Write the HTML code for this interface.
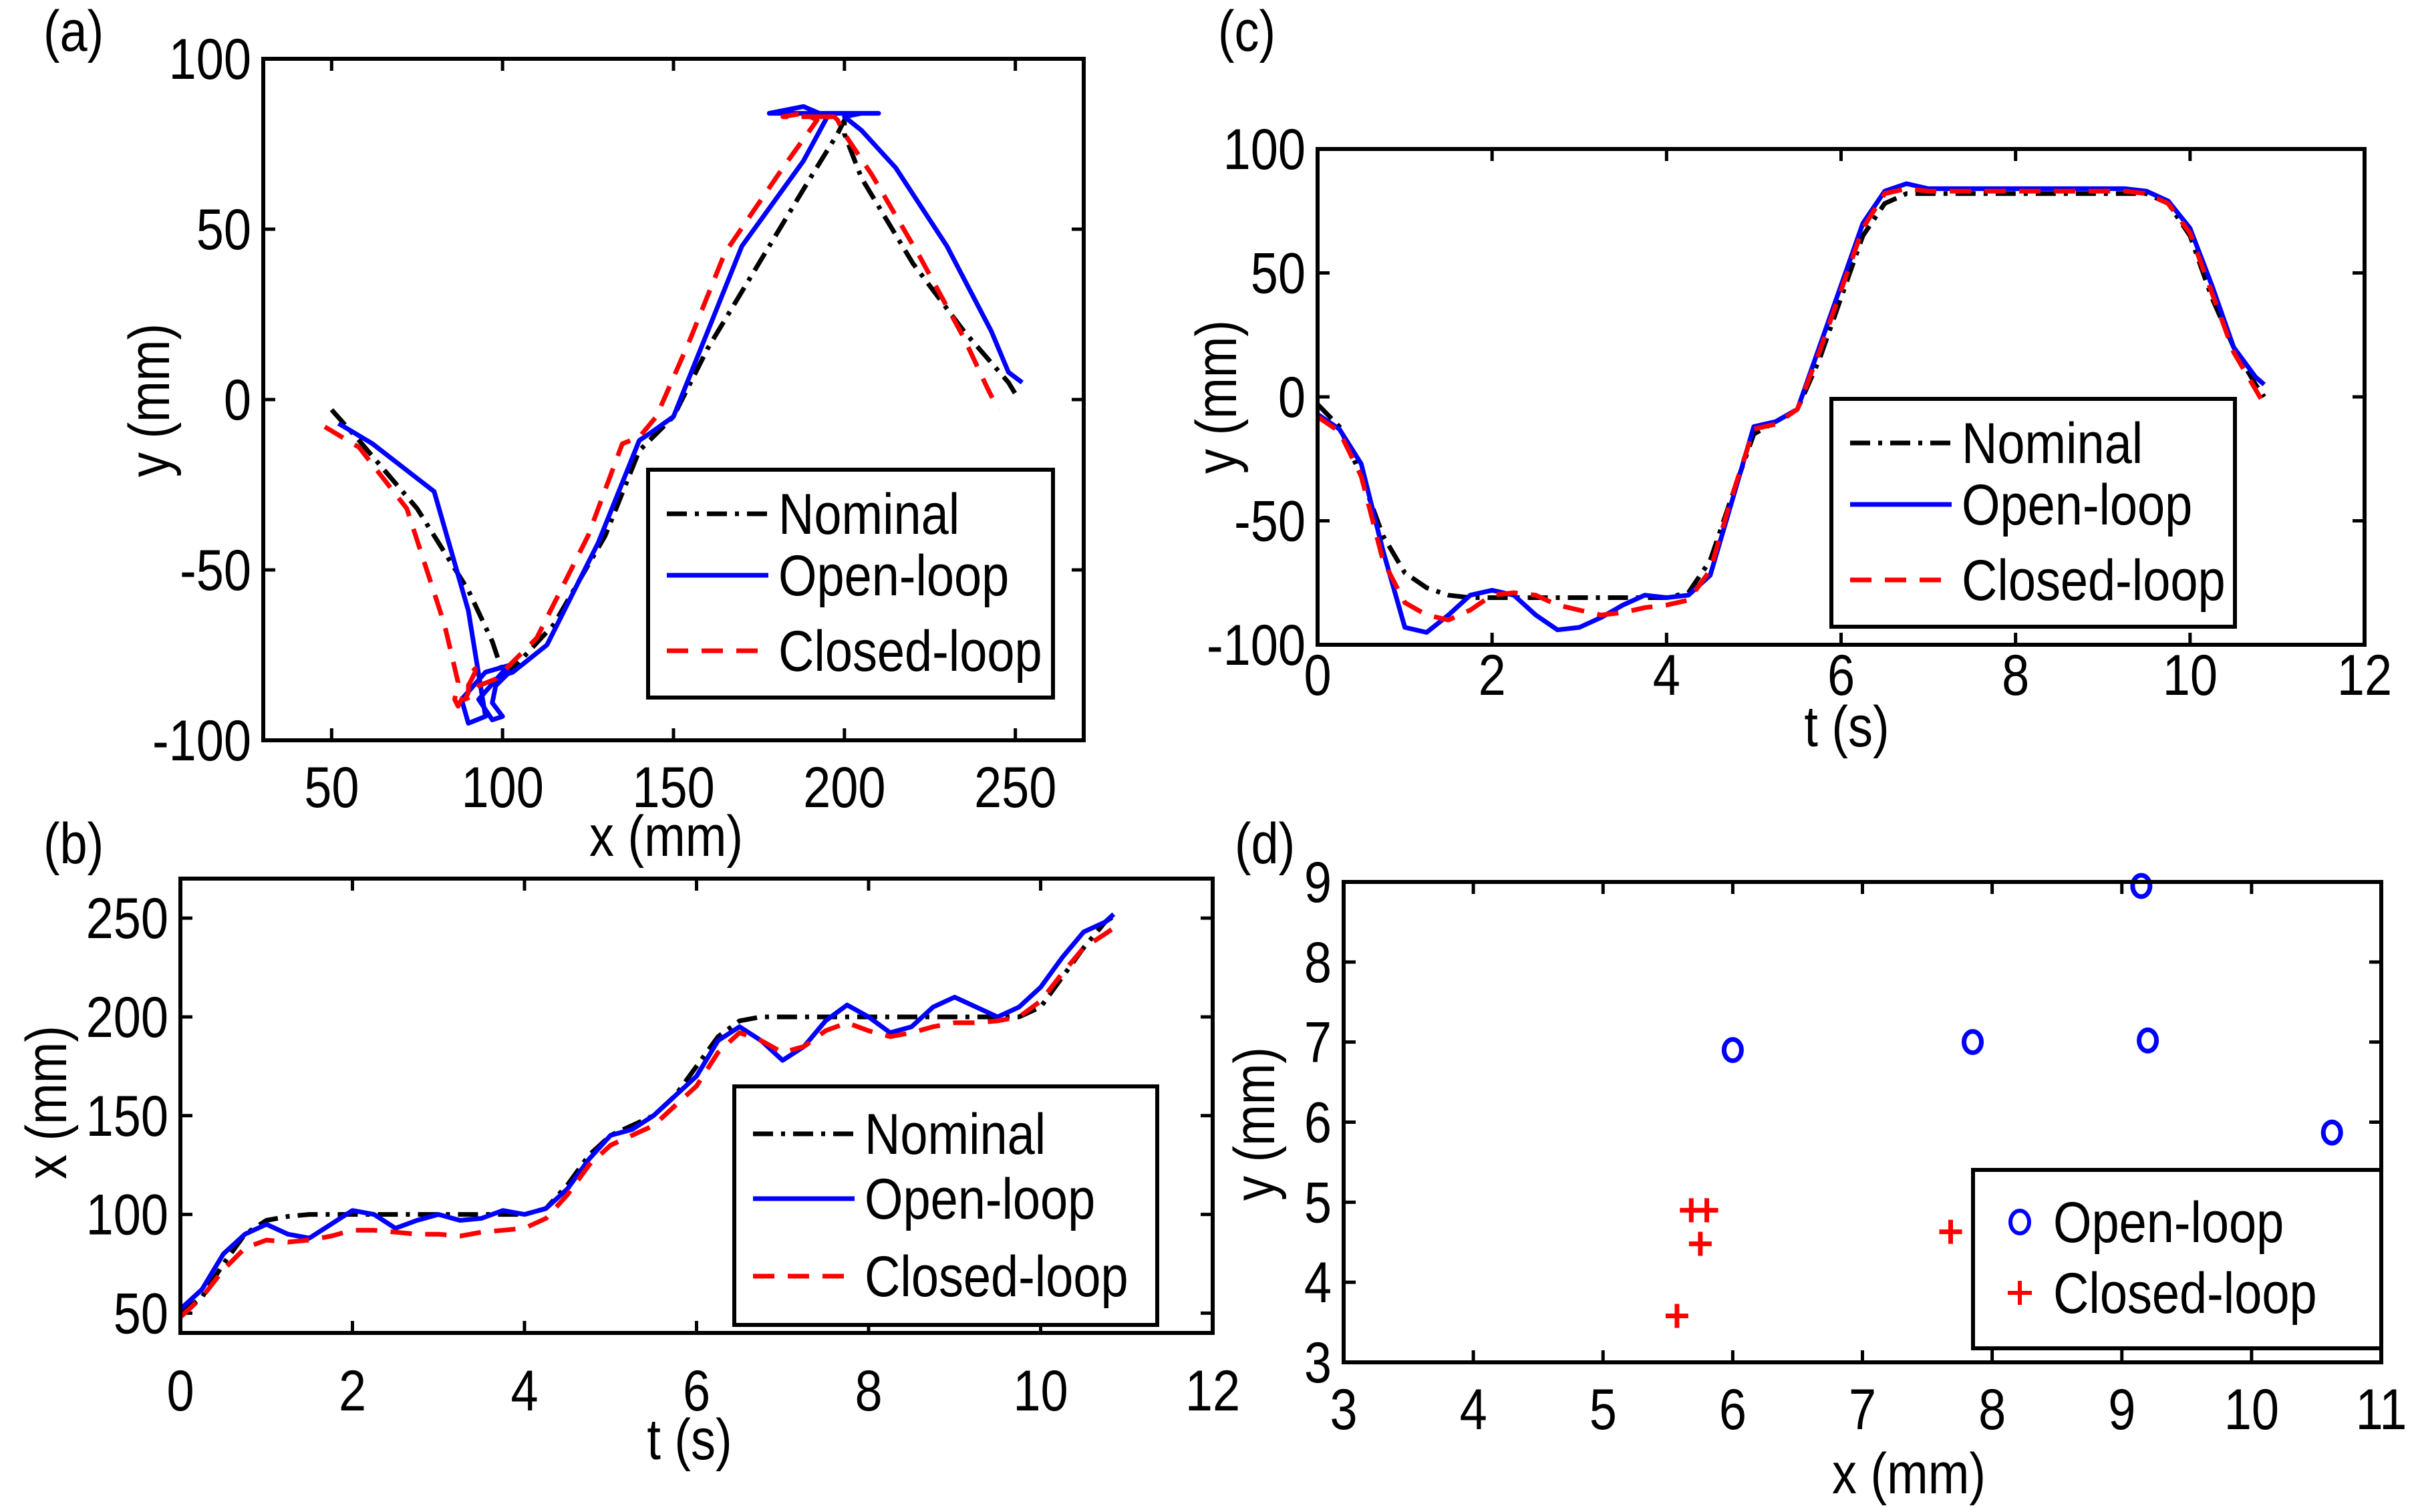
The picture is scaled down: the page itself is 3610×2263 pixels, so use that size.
<!DOCTYPE html>
<html><head><meta charset="utf-8"><style>
html,body{margin:0;padding:0;background:#fff}
svg{display:block}
text{font-family:"Liberation Sans Narrow","Liberation Sans",sans-serif;font-size:86px;fill:#000}
</style></head><body>
<svg id="fig" width="3610" height="2263" viewBox="0 0 3610 2263" xmlns="http://www.w3.org/2000/svg"></svg>
<script>
const tVals=[0,0.25,0.5,0.75,1,1.25,1.5,1.75,2,2.25,2.5,2.75,3,3.25,3.5,3.75,4,4.25,4.5,4.75,5,5.25,5.5,5.75,6,6.25,6.5,6.75,7,7.25,7.5,7.75,8,8.25,8.5,8.75,9,9.25,9.5,9.75,10,10.25,10.5,10.75,10.85];
const nomY=[-3,-12,-32,-56,-71,-77,-80,-81,-81,-81,-81,-81,-81,-81,-81,-81,-81,-79,-66,-40,-15,-10,-5,15,40,65,78,82,82,82,82,82,82,82,82,82,82,82,82,78,65,40,20,5,0];
const openY=[-7,-13,-27,-62,-93,-95,-88,-80,-78,-80,-88,-94,-93,-89,-84,-80,-81,-80,-72,-42,-12,-10,-5,20,45,70,83,86,84,84,84,84,84,84,84,84,84,84,83,79,68,45,20,8,5];
const closedY=[-8,-14,-32,-66,-83,-88,-90,-86,-80,-79,-80,-84,-86,-88,-87,-85,-84,-82,-70,-40,-13,-11,-5,18,43,68,82,84,83,83,83,83,83,83,83,83,83,83,82,78,66,42,18,3,-3];
const nomX=[50,58,75,90,97,99,100,100,100,100,100,100,100,100,100,100,100,103,115,130,140,145,150,160,175,190,198,200,200,200,200,200,200,200,200,200,200,200,200,200,205,220,235,248,251];
const openX=[52,62,80,90,95,90,88,95,102,100,93,97,100,97,98,102,100,103,113,128,140,143,150,160,170,188,195,188,178,185,198,206,200,192,195,205,210,205,200,205,215,230,243,248,252];
const closedX=[48,58,72,83,87,86,87,89,92,92,91,90,90,89,91,92,93,98,110,125,135,140,145,155,165,182,192,188,182,185,193,197,193,190,192,195,197,197,198,200,208,222,235,242,245];
const errOpenX=[6.0,7.85,9.15,9.2,10.62];
const errOpenY=[6.9,7.0,8.95,7.02,5.87];
const errClosedX=[5.57,5.68,5.8,5.75,7.68];
const errClosedY=[3.58,4.9,4.9,4.48,4.63];
const ticksA_x=[50,100,150,200,250], ticksA_y=[-100,-50,0,50,100];
const ticksT=[0,2,4,6,8,10,12];
const ticksB_y=[50,100,150,200,250];
const ticksC_y=[-100,-50,0,50,100];
const ticksD_x=[3,4,5,6,7,8,9,10,11], ticksD_y=[3,4,5,6,7,8,9];

const NS="http://www.w3.org/2000/svg";
const svg=document.getElementById('fig');
function mk(tag,attrs,parent){const e=document.createElementNS(NS,tag);for(const k in attrs)e.setAttribute(k,attrs[k]);(parent||svg).appendChild(e);return e;}
function txt(s,x,y,anchor,parent,rot){const e=mk('text',{x:0,y:0,'text-anchor':anchor,'dominant-baseline':'central'},parent);
  e.setAttribute('transform','translate('+x+' '+y+')'+(rot?' rotate(-90)':'')+' scale(0.86 1)');
  e.textContent=s;return e;}

function axes(name,L,R,T,B,x0,x1,y0,y1,xt,yt,xoff){
  const g=mk('g',{});
  
  
  const sx=v=>L+(v-x0)/(x1-x0)*(R-L), sy=v=>B-(v-y0)/(y1-y0)*(B-T);
  const tl=18;
  xt.forEach(v=>{const x=sx(v);
    const t1=mk('line',{x1:x,x2:x,y1:B,y2:B-tl,stroke:'#000','stroke-width':5},g);
    
    
    mk('line',{x1:x,x2:x,y1:T,y2:T+tl,stroke:'#000','stroke-width':5},g);
    const l=txt(String(v),x,B+xoff,'middle',g);
    
    
  });
  yt.forEach(v=>{const y=sy(v);
    const t1=mk('line',{x1:L,x2:L+tl,y1:y,y2:y,stroke:'#000','stroke-width':5},g);
    
    
    mk('line',{x1:R,x2:R-tl,y1:y,y2:y,stroke:'#000','stroke-width':5},g);
    const l=txt(String(v),L-18,y,'end',g);
    
    
  });
  return {g,sx,sy,L,R,T,B};
}
function frame(a){const r=mk('rect',{x:a.L,y:a.T,width:a.R-a.L,height:a.B-a.T,fill:'none',stroke:'#000','stroke-width':6},a.g);
  
  }
function line(a,xs,ys,color,dash,name){
  const d=xs.map((x,i)=>(i?'L':'M')+a.sx(x).toFixed(1)+','+a.sy(ys[i]).toFixed(1)).join(' ');
  const p=mk('path',{d:d,fill:'none',stroke:color,'stroke-width':7,'stroke-dasharray':dash,'stroke-linejoin':'round'},a.g);
  
  
}
const DD='30,12,6,12', DS='32,20';
function legend(a,x,y,w,h,rows,name){
  const g=mk('g',{},a.g);
  
  
  mk('rect',{x:x,y:y,width:w,height:h,fill:'#fff',stroke:'#000','stroke-width':6},g);
  rows.forEach(r=>{
    if(r.marker==='o'){mk('ellipse',{cx:x+70,cy:r.y,rx:14,ry:17,fill:'none',stroke:r.c,'stroke-width':6},g);}
    else if(r.marker==='+'){mk('path',{d:`M${x+52},${r.y}h36M${x+70},${r.y-18}v36`,stroke:r.c,'stroke-width':6},g);}
    else mk('line',{x1:x+28,x2:x+180,y1:r.y,y2:r.y,stroke:r.c,'stroke-width':7,'stroke-dasharray':r.d},g);
    const t=txt(r.s,x+(r.marker?120:195),r.y,'start',g);
    
    
  });
}

// (a)
const A=axes('panel-a',394,1622,88,1108,30,270,-100,100,ticksA_x,ticksA_y,70);
line(A,nomX,nomY,'#000',DD,'nominal-path');
line(A,openX,openY,'#0000ff','none','open-loop-path');
line(A,closedX,closedY,'#ff0000',DS,'closed-loop-path');
frame(A);
legend(A,970,703,606,341,[{s:'Nominal',y:769,c:'#000',d:DD},{s:'Open-loop',y:861,c:'#0000ff',d:'none'},{s:'Closed-loop',y:974,c:'#ff0000',d:DS}],'legend-a');
txt('x (mm)',997,1251,'middle',A.g);
txt('y (mm)',223,599,'middle',A.g,true);

// (b)
const Bp=axes('panel-b',270,1815,1315,1995,0,12,40,270,ticksT,ticksB_y,86);
line(Bp,tVals,nomX,'#000',DD,'nominal-x');
line(Bp,tVals,openX,'#0000ff','none','open-loop-x');
line(Bp,tVals,closedX,'#ff0000',DS,'closed-loop-x');
frame(Bp);
legend(Bp,1099,1626,633,357,[{s:'Nominal',y:1697,c:'#000',d:DD},{s:'Open-loop',y:1794,c:'#0000ff',d:'none'},{s:'Closed-loop',y:1910,c:'#ff0000',d:DS}],'legend-b');
txt('t (s)',1032,2154,'middle',Bp.g);
txt('x (mm)',69,1650,'middle',Bp.g,true);

// (c)
const C=axes('panel-c',1972,3539,223,965,0,12,-100,100,ticksT,ticksC_y,45);
line(C,tVals,nomY,'#000',DD,'nominal-y');
line(C,tVals,openY,'#0000ff','none','open-loop-y');
line(C,tVals,closedY,'#ff0000',DS,'closed-loop-y');
frame(C);
legend(C,2741,597,604,341,[{s:'Nominal',y:663,c:'#000',d:DD},{s:'Open-loop',y:755,c:'#0000ff',d:'none'},{s:'Closed-loop',y:868,c:'#ff0000',d:DS}],'legend-c');
txt('t (s)',2764,1087,'middle',C.g);
txt('y (mm)',1820,594,'middle',C.g,true);

// (d)
const D=axes('panel-d',2011,3564,1320,2039,3,11,3,9,ticksD_x,ticksD_y,70);
errOpenX.forEach((v,i)=>{const e=mk('ellipse',{cx:D.sx(v),cy:D.sy(errOpenY[i]),rx:13,ry:16,fill:'none',stroke:'#0000ff','stroke-width':7},D.g);
  
  });
errClosedX.forEach((v,i)=>{const x=D.sx(v),y=D.sy(errClosedY[i]);
  const p=mk('path',{d:`M${x-17},${y}h34M${x},${y-18}v36`,stroke:'#ff0000','stroke-width':7},D.g);
  
  });
frame(D);
legend(D,2953,1751,611,267,[{s:'Open-loop',y:1829,c:'#0000ff',marker:'o'},{s:'Closed-loop',y:1935,c:'#ff0000',marker:'+'}],'legend-d');
txt('x (mm)',2857,2205,'middle',D.g);
txt('y (mm)',1877,1682,'middle',D.g,true);

[['(a)',110,46],['(b)',110,1262],['(c)',1866,46],['(d)',1893,1262]].forEach(p=>{const t=txt(p[0],p[1],p[2],'middle');
  
  });
</script>
</body></html>
